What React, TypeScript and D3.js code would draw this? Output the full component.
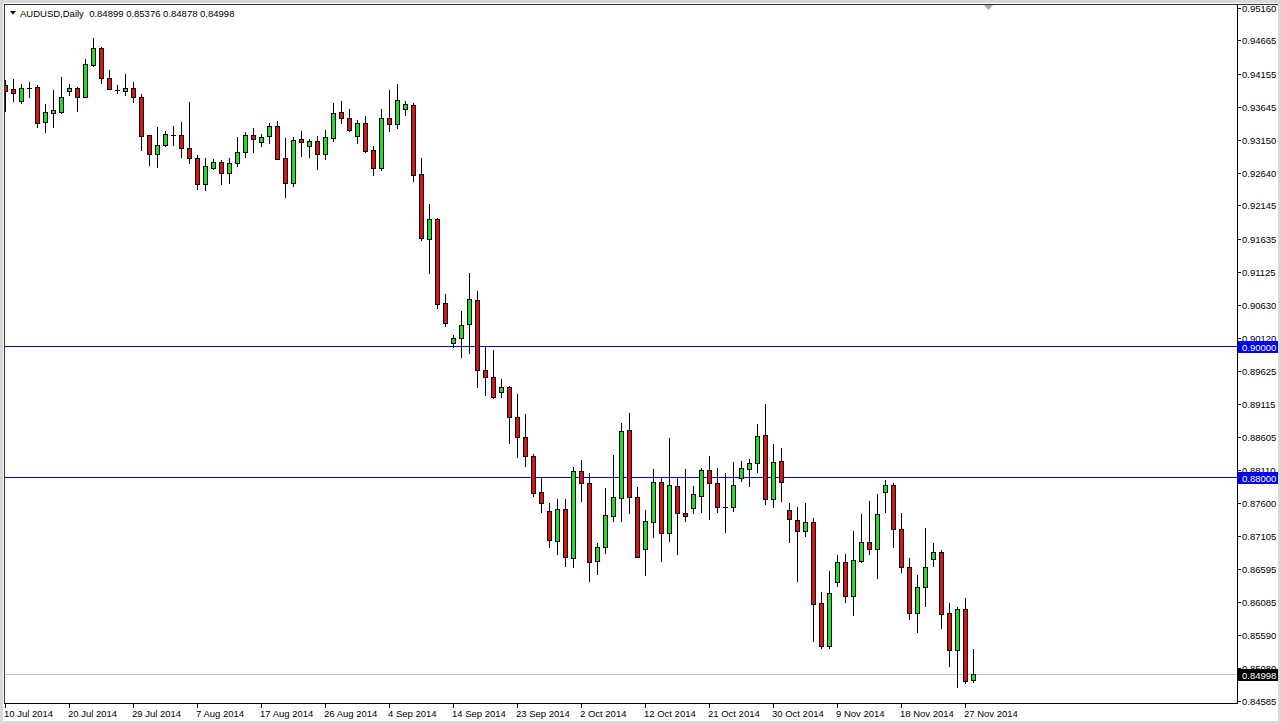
import React from "react";
import * as d3 from "d3";

// ---- data (AUDUSD daily, 10 Jul 2014 .. 28 Nov 2014, Sunday bars included) ----
const openP = [
  0.93985, 0.93919, 0.93745, 0.93932, 0.93950, 0.93415, 0.93562, 0.93577, 0.93898, 0.93934,
  0.93806, 0.94295, 0.94545, 0.94087, 0.93908, 0.93898, 0.93934, 0.93797, 0.93217, 0.92927,
  0.93064, 0.93217, 0.93217, 0.93018, 0.92866, 0.92469, 0.92713, 0.92814, 0.92637, 0.92789,
  0.92957, 0.93217, 0.93110, 0.93202, 0.93359, 0.92866, 0.92493, 0.93160, 0.93058, 0.93130,
  0.92927, 0.93171, 0.93568, 0.93476, 0.93211, 0.93409, 0.92992, 0.92713, 0.93476, 0.93385,
  0.93614, 0.93679, 0.92621, 0.91629, 0.91939, 0.90652, 0.90041, 0.90118, 0.90336, 0.90702,
  0.89634, 0.89522, 0.89293, 0.89369, 0.88911, 0.88606, 0.88321, 0.87766, 0.87481, 0.87023,
  0.87511, 0.86759, 0.88092, 0.87904, 0.86722, 0.86927, 0.87409, 0.87684, 0.88718, 0.87690,
  0.86896, 0.87318, 0.87924, 0.87140, 0.87863, 0.87446, 0.87531, 0.87715, 0.88102, 0.87904,
  0.87547, 0.87547, 0.87980, 0.88118, 0.88209, 0.88637, 0.87660, 0.88240, 0.87496, 0.87344,
  0.87180, 0.87318, 0.86072, 0.85424, 0.86402, 0.86698, 0.86188, 0.86722, 0.87003, 0.86896,
  0.87766, 0.87878, 0.87202, 0.86631, 0.85919, 0.86316, 0.86744, 0.86860, 0.85919, 0.85354,
  0.85980, 0.84899,
];
const highP = [
  0.94061, 0.94072, 0.94000, 0.94026, 0.93985, 0.93695, 0.93908, 0.94102, 0.94000, 0.93959,
  0.94377, 0.94698, 0.94557, 0.94214, 0.93985, 0.94153, 0.94026, 0.93847, 0.93217, 0.93339,
  0.93287, 0.93363, 0.93415, 0.93730, 0.92916, 0.92866, 0.92855, 0.92840, 0.92866, 0.93186,
  0.93272, 0.93324, 0.93237, 0.93409, 0.93435, 0.93171, 0.93186, 0.93287, 0.93160, 0.93206,
  0.93298, 0.93715, 0.93740, 0.93614, 0.93450, 0.93511, 0.93053, 0.93614, 0.93908, 0.94000,
  0.93740, 0.93715, 0.92866, 0.92168, 0.91954, 0.90794, 0.90168, 0.90534, 0.91110, 0.90840,
  0.89989, 0.89939, 0.89492, 0.89389, 0.89267, 0.88957, 0.88351, 0.88005, 0.87598, 0.87664,
  0.87664, 0.88148, 0.88260, 0.88056, 0.86988, 0.87827, 0.88336, 0.88829, 0.88982, 0.87843,
  0.87496, 0.88122, 0.87995, 0.88600, 0.87995, 0.88122, 0.87863, 0.88133, 0.88321, 0.88137,
  0.88056, 0.88224, 0.88244, 0.88275, 0.88805, 0.89115, 0.88499, 0.88438, 0.87598, 0.87547,
  0.87598, 0.87369, 0.86249, 0.86565, 0.86809, 0.86820, 0.87176, 0.87435, 0.87634, 0.87736,
  0.87954, 0.87904, 0.87455, 0.86759, 0.86504, 0.87217, 0.86988, 0.86886, 0.86072, 0.86020,
  0.86148, 0.85376,
];
const lowP = [
  0.93588, 0.93745, 0.93715, 0.93806, 0.93348, 0.93272, 0.93348, 0.93553, 0.93832, 0.93592,
  0.93797, 0.94279, 0.94011, 0.93919, 0.93858, 0.93832, 0.93730, 0.92992, 0.92763, 0.92737,
  0.93053, 0.93069, 0.92890, 0.92789, 0.92392, 0.92382, 0.92698, 0.92473, 0.92493, 0.92748,
  0.92881, 0.92966, 0.93058, 0.93104, 0.92850, 0.92270, 0.92447, 0.92901, 0.92890, 0.92707,
  0.92860, 0.93134, 0.93400, 0.93287, 0.93104, 0.92966, 0.92611, 0.92687, 0.93287, 0.93333,
  0.93527, 0.92524, 0.91618, 0.91110, 0.90576, 0.90305, 0.89980, 0.89827, 0.89889, 0.89369,
  0.89252, 0.89202, 0.89217, 0.88515, 0.88301, 0.88168, 0.87715, 0.87470, 0.86927, 0.86820,
  0.86646, 0.86621, 0.87638, 0.86417, 0.86519, 0.86844, 0.87333, 0.87333, 0.87455, 0.86778,
  0.86504, 0.87089, 0.86718, 0.87028, 0.86824, 0.87333, 0.87455, 0.87470, 0.87354, 0.87470,
  0.87165, 0.87486, 0.87944, 0.87867, 0.88081, 0.87583, 0.87547, 0.87634, 0.87012, 0.86417,
  0.87104, 0.85501, 0.85394, 0.85394, 0.86341, 0.86087, 0.85893, 0.86707, 0.86820, 0.86463,
  0.87461, 0.86936, 0.86554, 0.85827, 0.85638, 0.86035, 0.86641, 0.85690, 0.85119, 0.84789,
  0.84850, 0.84878,
];
const closeP = [
  0.93893, 0.93858, 0.93934, 0.93932, 0.93409, 0.93568, 0.93603, 0.93797, 0.93934, 0.93806,
  0.94305, 0.94545, 0.94087, 0.93928, 0.93908, 0.93934, 0.93797, 0.93206, 0.92927, 0.93064,
  0.93232, 0.93217, 0.93018, 0.92866, 0.92469, 0.92748, 0.92805, 0.92637, 0.92789, 0.92957,
  0.93221, 0.93165, 0.93186, 0.93359, 0.92860, 0.92493, 0.93145, 0.93119, 0.93130, 0.92927,
  0.93186, 0.93562, 0.93476, 0.93302, 0.93409, 0.92977, 0.92713, 0.93476, 0.93385, 0.93756,
  0.93695, 0.92606, 0.91644, 0.91934, 0.90637, 0.90347, 0.90118, 0.90321, 0.90713, 0.89634,
  0.89522, 0.89226, 0.89369, 0.88911, 0.88606, 0.88321, 0.87751, 0.87598, 0.87038, 0.87507,
  0.86774, 0.88092, 0.87904, 0.86707, 0.86927, 0.87415, 0.87690, 0.88702, 0.87699, 0.86783,
  0.87328, 0.87924, 0.87140, 0.87878, 0.87446, 0.87409, 0.87736, 0.88102, 0.87904, 0.87547,
  0.87547, 0.87878, 0.88133, 0.88209, 0.88626, 0.87660, 0.88224, 0.87928, 0.87354, 0.87180,
  0.87318, 0.86061, 0.85424, 0.86224, 0.86698, 0.86188, 0.86728, 0.87003, 0.86896, 0.87431,
  0.87878, 0.87202, 0.86631, 0.85919, 0.86316, 0.86631, 0.86850, 0.85904, 0.85354, 0.85980,
  0.84890, 0.84998,
];

const yTickLabels = [
  "0.95160", "0.94665", "0.94155", "0.93645", "0.93150", "0.92640", "0.92145", "0.91635",
  "0.91125", "0.90630", "0.90120", "0.89625", "0.89115", "0.88605", "0.88110", "0.87600",
  "0.87105", "0.86595", "0.86085", "0.85590", "0.85080", "0.84585",
];
const levelLines = [0.9, 0.88];
const symbolTitle = "AUDUSD,Daily";
const lastQuote = ["0.84899", "0.85376", "0.84878", "0.84998"];
const bidPrice = 0.84998;
const startDate = new Date(2014, 6, 10);
const dateLabelEvery = 8;

// ---- layout ----
const W = 1281;
const H = 724;
const plotLeft = 4;
const plotRight = 1237;
const plotTop = 4;
const plotBottom = 703;
const barStep = 8;
const priceTop = 0.95221;
const priceBottom = 0.8455;

const FONT = "'Liberation Sans', Arial, sans-serif";
const FS = 9.5;
const GREEN = "#1fe01f";
const RED = "#dc1414";
const LEVEL = "#0000c8";

function tradingDays(start: Date, n: number): Date[] {
  const out: Date[] = [];
  let d = start;
  while (out.length < n) {
    if (d.getDay() !== 6) out.push(d);
    d = d3.timeDay.offset(d, 1);
  }
  return out;
}

export default function App() {
  const n = openP.length;
  const dates = tradingDays(startDate, n);
  const x = d3.scaleLinear().domain([0, 1]).range([5.5, 5.5 + barStep]);
  const y = d3.scaleLinear().domain([priceBottom, priceTop]).range([plotBottom, plotTop]);
  const fmt = d3.timeFormat("%-d %b %Y");
  const px = (v: number) => Math.round(v) + 0.5;

  const candles = d3.range(n).map((i) => {
    const o = openP[i], c = closeP[i];
    const cx = x(i);
    const top = Math.round(y(Math.max(o, c)));
    const bot = Math.round(y(Math.min(o, c)));
    return {
      i, cx, top, bot,
      hi: Math.round(y(highP[i])),
      lo: Math.round(y(lowP[i])),
      bull: c > o,
      doji: top === bot,
    };
  });

  return (
    <div style={{ position: "absolute", left: 0, top: 0, width: W, height: H }}>
      <svg width={W} height={H} style={{ display: "block" }} fontFamily={FONT} fontSize={FS}>
        <rect x={0} y={0} width={W} height={H} fill="#d8d8d8" />
        <rect x={3} y={3} width={W - 6} height={H - 6} fill="#ffffff" />
        <defs>
          <clipPath id="plotClip">
            <rect x={plotLeft + 1} y={plotTop + 1} width={plotRight - plotLeft - 1} height={plotBottom - plotTop - 1} />
          </clipPath>
        </defs>

        <g clipPath="url(#plotClip)">
          {/* bid line */}
          <line x1={plotLeft} x2={plotRight} y1={px(y(bidPrice))} y2={px(y(bidPrice))} stroke="#c0c0c0" strokeWidth={1} />
          {/* level lines */}
          {levelLines.map((v) => (
            <line key={v} x1={plotLeft} x2={plotRight} y1={px(y(v))} y2={px(y(v))} stroke={LEVEL} strokeWidth={1} shapeRendering="crispEdges" />
          ))}
          {candles.map((k) => (
            <g key={k.i}>
              <line x1={k.cx} x2={k.cx} y1={k.hi} y2={k.lo + 1} stroke="#000" strokeWidth={1} />
              {k.doji ? (
                <line x1={k.cx - 2.5} x2={k.cx + 2.5} y1={k.top + 0.5} y2={k.top + 0.5} stroke="#000" strokeWidth={1} />
              ) : (
                <rect x={k.cx - 2} y={k.top + 0.5} width={4} height={k.bot - k.top}
                  fill={k.bull ? GREEN : RED} stroke="#000" strokeWidth={1} />
              )}
            </g>
          ))}
        </g>

        {/* frame */}
        <line x1={plotLeft} x2={W - 3} y1={plotTop + 0.5} y2={plotTop + 0.5} stroke="#333" strokeWidth={1} />
        <line x1={plotLeft + 0.5} x2={plotLeft + 0.5} y1={plotTop} y2={plotBottom + 1} stroke="#333" strokeWidth={1} />
        <line x1={plotLeft} x2={plotRight + 1} y1={plotBottom + 0.5} y2={plotBottom + 0.5} stroke="#000" strokeWidth={1} />
        <line x1={plotRight + 0.5} x2={plotRight + 0.5} y1={plotTop} y2={plotBottom + 1} stroke="#000" strokeWidth={1} />

        {/* chart shift marker */}
        <path d={`M984,${plotTop + 1} L993,${plotTop + 1} L988.5,${plotTop + 6} Z`} fill="#a8a8a8" />

        {/* title */}
        <path d="M10,11 L16,11 L13,14.5 Z" fill="#000" />
        <text x={20} y={16.5} fill="#000" style={{ whiteSpace: "pre" }}>
          {`${symbolTitle}  ${lastQuote.join(" ")}`}
        </text>

        {/* price axis */}
        {yTickLabels.map((t) => {
          const yy = px(y(+t));
          return (
            <g key={t}>
              <line x1={plotRight + 1} x2={plotRight + 4} y1={yy} y2={yy} stroke="#000" strokeWidth={1} />
              <text x={plotRight + 5} y={yy + 3.5} fill="#000">{t}</text>
            </g>
          );
        })}
        {levelLines.map((v) => {
          const yy = Math.round(y(v));
          return (
            <g key={"lv" + v}>
              <rect x={plotRight + 1} y={yy - 5} width={W - 3 - plotRight - 1} height={12} fill="#0000f0" />
              <text x={plotRight + 5} y={yy + 4.5} fill="#fff">{d3.format(".5f")(v)}</text>
            </g>
          );
        })}
        {(() => {
          const yy = Math.round(y(bidPrice));
          return (
            <g>
              <rect x={plotRight + 1} y={yy - 5} width={W - 3 - plotRight - 1} height={12} fill="#000" />
              <text x={plotRight + 5} y={yy + 4.5} fill="#fff">{d3.format(".5f")(bidPrice)}</text>
            </g>
          );
        })()}

        {/* date axis */}
        {dates.map((d, i) =>
          i % dateLabelEvery === 0 ? (
            <g key={"d" + i}>
              <line x1={Math.max(px(x(i)) - 1, plotLeft + 0.5)} x2={Math.max(px(x(i)) - 1, plotLeft + 0.5)}
                y1={plotBottom + 1} y2={plotBottom + 5} stroke="#000" strokeWidth={1} />
              <text x={Math.max(x(i) - 1.5, plotLeft)} y={717} fill="#000">{fmt(d)}</text>
            </g>
          ) : null
        )}
      </svg>
    </div>
  );
}
